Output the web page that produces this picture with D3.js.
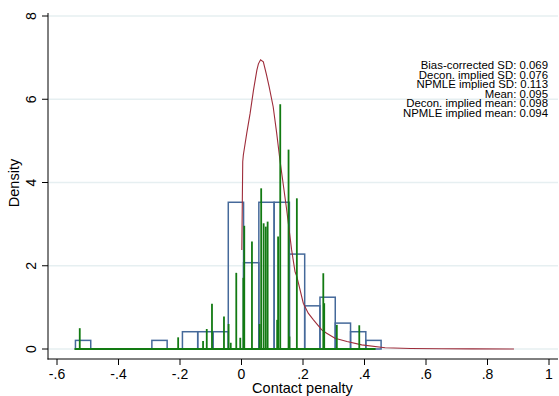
<!DOCTYPE html>
<html>
<head>
<meta charset="utf-8">
<script src="https://cdn.jsdelivr.net/npm/d3@7"></script>
<style>
  html, body { margin: 0; padding: 0; background: #ffffff; }
  svg { display: block; font-family: "Liberation Sans", Arial, Helvetica, sans-serif; }
</style>
</head>
<body>
<svg id="chart" width="559" height="396"></svg>
<script>
// ---------------- data ----------------
const xTicks = [-0.6, -0.4, -0.2, 0, 0.2, 0.4, 0.6, 0.8, 1];
const xTickLabels = ["-.6", "-.4", "-.2", "0", ".2", ".4", ".6", ".8", "1"];
const yTicks = [0, 2, 4, 6, 8];
const yTickLabels = ["0", "2", "4", "6", "8"];

// histogram (density), 20 bins
const binStart = -0.54;
const binWidth = 0.0497;
const histDensity = [0.207, 0, 0, 0, 0, 0.207, 0, 0.415, 0.415, 0.415,
                     3.525, 2.073, 3.525, 3.525, 2.280, 1.037, 1.244, 0.622, 0.415, 0.207];

// NPMLE mass points (green spikes)
const spikeX = [-0.526, -0.206, -0.125, -0.113, -0.096, -0.057, -0.042, -0.035, -0.017, -0.004,
                0.006, 0.009, 0.034, 0.059, 0.064, 0.072, 0.079, 0.085, 0.116, 0.119,
                0.126, 0.153, 0.156, 0.180, 0.266, 0.269, 0.310, 0.383];
const spikeH = [0.50, 0.28, 0.19, 0.48, 1.09, 0.78, 0.60, 0.15, 1.83, 0.27,
                1.71, 2.96, 2.58, 0.60, 3.86, 3.02, 2.94, 3.06, 0.70, 2.70,
                5.88, 4.79, 0.30, 3.62, 1.82, 1.10, 0.58, 0.57];
const spikeBase = [-0.543, 0.436];

// deconvolution density (red curve)
const curveX = [0.001, 0.004, 0.006, 0.017, 0.028, 0.039, 0.050, 0.055, 0.062, 0.071,
                0.081, 0.090, 0.103, 0.114, 0.125, 0.147, 0.163, 0.174, 0.180, 0.201,
                0.217, 0.234, 0.261, 0.277, 0.304, 0.343, 0.391, 0.467, 0.55, 0.65,
                0.75, 0.886];
const curveY = [2.38, 4.50, 4.66, 5.18, 5.66, 6.22, 6.70, 6.85, 6.95, 6.90,
                6.60, 6.30, 5.82, 5.21, 4.54, 3.34, 2.38, 1.86, 1.74, 1.10,
                0.86, 0.70, 0.46, 0.38, 0.26, 0.18, 0.10, 0.03, 0.012, 0.006,
                0.003, 0.001];

const statLabels = [
  "Bias-corrected SD: 0.069",
  "Decon. implied SD: 0.076",
  "NPMLE implied SD: 0.113",
  "Mean: 0.095",
  "Decon. implied mean: 0.098",
  "NPMLE implied mean: 0.094"
];

// ---------------- layout ----------------
const svg = d3.select("#chart");
const x = d3.scaleLinear().domain([-0.6, 1]).range([57, 549]);
const y = d3.scaleLinear().domain([0, 8]).range([349, 16]);
const axisLeftX = 48, axisBottomY = 359, plotRight = 558, plotTop = 13;

const gridColor = "#e6eff1";
const barColor = "#45699a";
const redColor = "#9e2c3a";
const greenColor = "#127a12";
const textColor = "#000000";

// gridlines
svg.append("g").selectAll("line").data(yTicks).join("line")
  .attr("x1", axisLeftX).attr("x2", plotRight)
  .attr("y1", d => y(d)).attr("y2", d => y(d))
  .attr("stroke", gridColor).attr("stroke-width", 1.5);

// histogram bars
const bins = histDensity.map((d, i) => ({ x0: binStart + i * binWidth, x1: binStart + (i + 1) * binWidth, d }));
svg.append("g").selectAll("rect").data(bins.filter(b => b.d > 0)).join("rect")
  .attr("x", b => x(b.x0))
  .attr("width", b => x(b.x1) - x(b.x0))
  .attr("y", b => y(b.d))
  .attr("height", b => y(0) - y(b.d))
  .attr("fill", "none")
  .attr("stroke", barColor)
  .attr("stroke-width", 1.5);

// red curve
const line = d3.line().x(d => x(d[0])).y(d => y(d[1]));
svg.append("path")
  .datum(curveX.map((v, i) => [v, curveY[i]]))
  .attr("d", line)
  .attr("fill", "none")
  .attr("stroke", redColor)
  .attr("stroke-width", 1.1);

// green baseline + spikes
svg.append("line")
  .attr("x1", x(spikeBase[0])).attr("x2", x(spikeBase[1]))
  .attr("y1", y(0)).attr("y2", y(0))
  .attr("stroke", greenColor).attr("stroke-width", 2);
svg.append("g").selectAll("line").data(spikeX.map((v, i) => [v, spikeH[i]])).join("line")
  .attr("x1", d => x(d[0])).attr("x2", d => x(d[0]))
  .attr("y1", y(0)).attr("y2", d => y(d[1]))
  .attr("stroke", greenColor).attr("stroke-width", 1.8);

// axes lines
svg.append("line").attr("x1", axisLeftX).attr("x2", axisLeftX)
  .attr("y1", plotTop).attr("y2", axisBottomY + 0.5)
  .attr("stroke", "#000").attr("stroke-width", 1);
svg.append("line").attr("x1", axisLeftX - 0.5).attr("x2", plotRight)
  .attr("y1", axisBottomY).attr("y2", axisBottomY)
  .attr("stroke", "#000").attr("stroke-width", 1);

// x ticks and labels
const xg = svg.append("g");
xg.selectAll("line").data(xTicks).join("line")
  .attr("x1", d => x(d)).attr("x2", d => x(d))
  .attr("y1", axisBottomY).attr("y2", axisBottomY + 6)
  .attr("stroke", "#000").attr("stroke-width", 1);
xg.selectAll("text").data(xTicks).join("text")
  .attr("x", d => x(d)).attr("y", 379)
  .attr("text-anchor", "middle")
  .attr("font-size", 14)
  .attr("fill", textColor)
  .text((d, i) => xTickLabels[i]);

// y ticks and labels (rotated)
const yg = svg.append("g");
yg.selectAll("line").data(yTicks).join("line")
  .attr("x1", axisLeftX - 6).attr("x2", axisLeftX)
  .attr("y1", d => y(d)).attr("y2", d => y(d))
  .attr("stroke", "#000").attr("stroke-width", 1);
yg.selectAll("text").data(yTicks).join("text")
  .attr("transform", d => `translate(36,${y(d)}) rotate(-90)`)
  .attr("text-anchor", "middle")
  .attr("font-size", 14)
  .attr("fill", textColor)
  .text((d, i) => yTickLabels[i]);

// axis titles
svg.append("text")
  .attr("x", 302.5).attr("y", 393)
  .attr("text-anchor", "middle")
  .attr("font-size", 14.5)
  .attr("fill", textColor)
  .text("Contact penalty");
svg.append("text")
  .attr("transform", `translate(19,183) rotate(-90)`)
  .attr("text-anchor", "middle")
  .attr("font-size", 14.5)
  .attr("fill", textColor)
  .text("Density");

// stats text block
svg.append("g").selectAll("text").data(statLabels).join("text")
  .attr("x", 548).attr("y", (d, i) => 69 + i * 9.6)
  .attr("text-anchor", "end")
  .attr("font-size", 11.4)
  .attr("fill", textColor)
  .text(d => d);
</script>
</body>
</html>
